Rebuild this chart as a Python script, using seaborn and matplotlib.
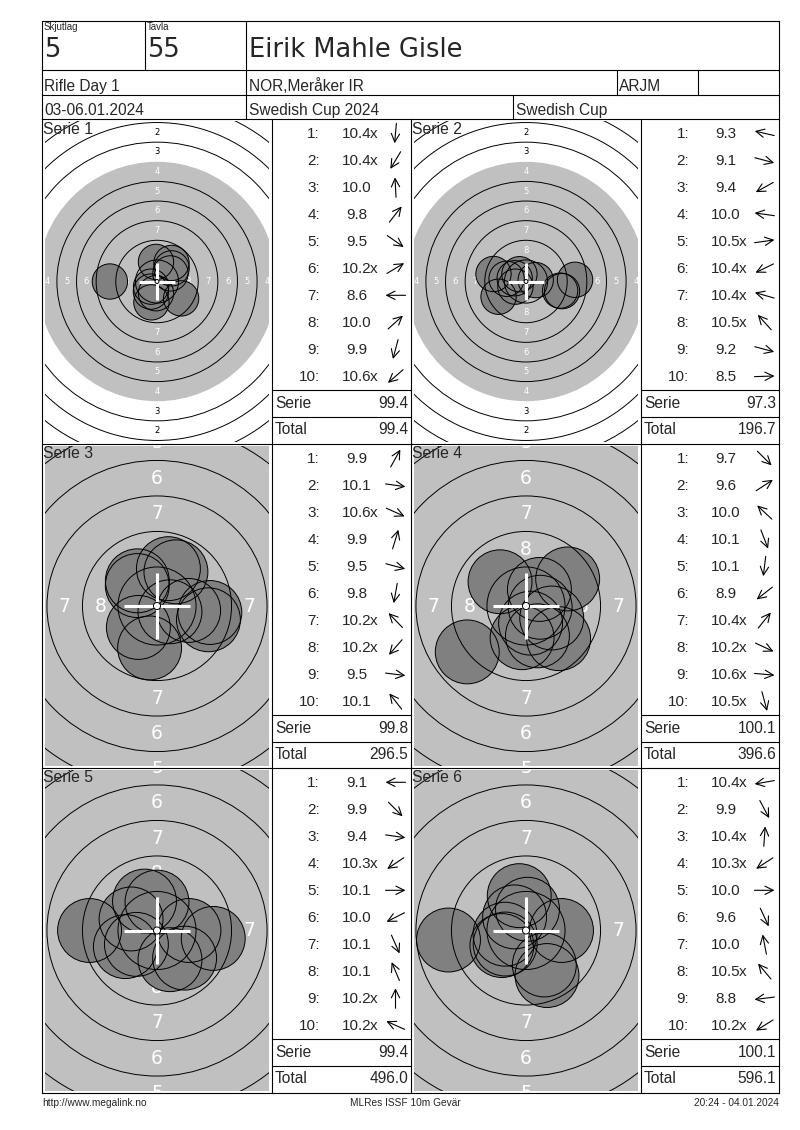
import numpy as np
import pandas as pd
import matplotlib
matplotlib.use('Agg')
import matplotlib.pyplot as plt
from matplotlib.patches import Circle
import seaborn as sns

sns.set_theme(style='white')
plt.rcParams['font.family'] = ['Liberation Sans', 'DejaVu Sans']

# header of the score card
skjutlag = '5'
tavla = '55'
shooter = 'Eirik Mahle Gisle'
event = 'Rifle Day 1'
club = 'NOR,Meråker IR'
klass = 'ARJM'
dates = '03-06.01.2024'
competition = 'Swedish Cup 2024'
cup = 'Swedish Cup'
footer = ['http://www.megalink.no', 'MLRes ISSF 10m Gevär', '20:24 - 04.01.2024']

# shots per serie: score text and direction of the arrow (degrees, 0 = right, 90 = up)
serie1_scores = ['10.4x', '10.4x', '10.0', '9.8', '9.5', '10.2x', '8.6', '10.0', '9.9', '10.6x']
serie1_dirs = [-95, -121, 93, 52, -35, 31, 180, 42, -105, -139]
serie2_scores = ['9.3', '9.1', '9.4', '10.0', '10.5x', '10.4x', '10.4x', '10.5x', '9.2', '8.5']
serie2_dirs = [167, -15, -151, 172, 8, -154, 164, 132, -15, 2]
serie3_scores = ['9.9', '10.1', '10.6x', '9.9', '9.5', '9.8', '10.2x', '10.2x', '9.5', '10.1']
serie3_dirs = [61, -8, -24, 73, -15, -100, 134, -131, -7, 128]
serie4_scores = ['9.7', '9.6', '10.0', '10.1', '10.1', '8.9', '10.4x', '10.2x', '10.6x', '10.5x']
serie4_dirs = [-45, 33, 137, -69, -97, -142, 51, -25, -5, -75]
serie5_scores = ['9.1', '9.9', '9.4', '10.3x', '10.1', '10.0', '10.1', '10.1', '10.2x', '10.2x']
serie5_dirs = [180, -45, -8, -146, 0, -153, -66, 113, 90, 156]
serie6_scores = ['10.4x', '9.9', '10.4x', '10.3x', '10.0', '9.6', '10.0', '10.5x', '8.8', '10.2x']
serie6_dirs = [-170, -62, 86, -147, 0, -65, 101, 130, -173, -148]

serie_sums = ['99.4', '97.3', '99.8', '100.1', '99.4', '100.1']
totals = ['99.4', '196.7', '296.5', '396.6', '496.0', '596.1']

all_scores = [serie1_scores, serie2_scores, serie3_scores, serie4_scores, serie5_scores, serie6_scores]
all_dirs = [serie1_dirs, serie2_dirs, serie3_dirs, serie4_dirs, serie5_dirs, serie6_dirs]
zoomed = [False, False, True, True, True, True]

# 10m air rifle target (mm)
ring_r = {n: 0.25 + (10 - n) * 2.5 for n in range(1, 11)}
pellet_r = 2.25

W, H = 800, 1130
fig = plt.figure(figsize=(W / 100, H / 100), dpi=100)
fig.patch.set_facecolor('white')


def box(x0, y0, x1, y1):
    return [x0 / W, 1 - y1 / H, (x1 - x0) / W, (y1 - y0) / H]


L, R, T, B = 42, 779, 21, 1093
cols = [42, 272, 411, 641, 779]
rows = [119, 444, 768, 1093]

ov = fig.add_axes([0, 0, 1, 1], zorder=10)
ov.set_xlim(0, W)
ov.set_ylim(H, 0)
ov.axis('off')
ov.patch.set_alpha(0)


def hline(y, x0, x1):
    ov.plot([x0, x1], [y, y], color='black', lw=0.8, solid_capstyle='projecting')


def vline(x, y0, y1):
    ov.plot([x, x], [y0, y1], color='black', lw=0.8, solid_capstyle='projecting')


# frame and header grid
for y in [T, 70, 95, 119, 444, 768, B]:
    hline(y, L, R)
vline(L, T, B)
vline(R, T, B)
vline(145, T, 70)
vline(246, T, 119)
vline(617, 70, 95)
vline(698, 70, 95)
vline(513, 95, 119)
for x in cols[1:-1]:
    vline(x, 119, B)

ov.text(44, 30, 'Skjutlag', fontsize=7, va='baseline')
ov.text(147, 30, 'Tavla', fontsize=7, va='baseline')
ov.text(44, 57, skjutlag, fontsize=18.5, family='DejaVu Sans', va='baseline')
ov.text(147, 57, tavla, fontsize=18.5, family='DejaVu Sans', va='baseline')
ov.text(249, 57, shooter, fontsize=18.5, family='DejaVu Sans', va='baseline')
ov.text(44, 91, event, fontsize=11.2, va='baseline')
ov.text(249, 91, club, fontsize=11.2, va='baseline')
ov.text(619, 91, klass, fontsize=11.2, va='baseline')
ov.text(44, 115, dates, fontsize=11.2, va='baseline')
ov.text(249, 115, competition, fontsize=11.2, va='baseline')
ov.text(516, 115, cup, fontsize=11.2, va='baseline')

ov.text(42, 1106, footer[0], fontsize=7.3, va='baseline')
ov.text(405, 1106, footer[1], fontsize=7.3, va='baseline', ha='center')
ov.text(779, 1106, footer[2], fontsize=7.3, va='baseline', ha='right')


def draw_target(ax, df, scale, w_px, h_px):
    hw, hh = w_px / 2 / scale, h_px / 2 / scale
    ax.add_patch(Circle((0, 0), ring_r[4], fc='#c0c0c0', ec='none', zorder=0.5))
    for n in [1, 2, 3, 5, 6, 7, 8, 9]:
        ax.add_patch(Circle((0, 0), ring_r[n], fill=False, ec='black', lw=0.7, zorder=3))
    fs = 13.5 if scale > 10 else 6
    edge = 0.6  # let numbers that are half out of view show their cut part
    for n in range(1, 9):
        mid = (ring_r[n] + ring_r[n + 1]) / 2
        col = 'white' if n >= 4 else 'black'
        spots = []
        if mid < hh + edge:
            spots += [(0, mid), (0, -mid)]
        if mid < hw + edge:
            spots += [(mid, 0), (-mid, 0)]
        for px, py in spots:
            ax.text(px, py, str(n), color=col, fontsize=fs, family='DejaVu Sans',
                    ha='center', va='center', zorder=1.5, clip_on=True)
    size = (2 * pellet_r * scale * 72 / 100) ** 2
    sns.scatterplot(data=df, x='x', y='y', ax=ax, s=size, color='#808080',
                    edgecolor='none', linewidth=0, zorder=2, legend=False)
    sns.scatterplot(data=df, x='x', y='y', ax=ax, s=size, facecolor='none',
                    edgecolor='black', linewidth=0.7, zorder=2.5, legend=False)
    c = 2.35
    ax.plot([-c, c], [0, 0], color='white', lw=2.2, solid_capstyle='butt', zorder=4)
    ax.plot([0, 0], [-c, c], color='white', lw=2.2, solid_capstyle='butt', zorder=4)
    ax.add_patch(Circle((0, 0), ring_r[10], fc='white', ec='black', lw=0.7, zorder=5))
    ax.set_xlim(-hw, hw)
    ax.set_ylim(-hh, hh)
    ax.axis('off')


for i in range(6):
    c, r = i % 2, i // 2
    tx0, tx1 = cols[2 * c], cols[2 * c + 1]
    tl, tr = cols[2 * c + 1], cols[2 * c + 2]
    top, bot = rows[r], rows[r + 1]

    scores = all_scores[i]
    vals = np.array([float(s.rstrip('x')) for s in scores])
    ang = np.radians(all_dirs[i])
    dist = (11 - vals) * 2.5
    df = pd.DataFrame({'shot': np.arange(1, 11), 'score': vals,
                       'x': dist * np.cos(ang), 'y': dist * np.sin(ang)})

    scale = 14.2 if zoomed[i] else 7.85
    ax = fig.add_axes(box(tx0 + 3, top + 2, tx1 - 3, bot - 2), zorder=1)
    draw_target(ax, df, scale, (tx1 - 3) - (tx0 + 3), (bot - 2) - (top + 2))
    ov.text(tx0 + 1, top + 14.5, f'Serie {i + 1}', fontsize=11.3, va='baseline')

    # score list
    for k, s in enumerate(scores):
        yb = top + 19.3 + 27 * k
        ov.text(tl + 48, yb, f'{k + 1}:', fontsize=11, ha='right', va='baseline')
        ov.text(tl + 84.5, yb, s.rstrip('x'), fontsize=11, ha='center', va='baseline')
        if s.endswith('x'):
            ov.text(tl + 98.3, yb, 'x', fontsize=11, ha='left', va='baseline')
        a = np.radians(all_dirs[i][k])
        cx, cy = tl + 123.5, yb - 5
        dx, dy = 10 * np.cos(a), -10 * np.sin(a)
        ov.annotate('', xy=(cx + dx, cy + dy), xytext=(cx - dx, cy - dy),
                    arrowprops=dict(arrowstyle='->,head_length=0.5,head_width=0.25',
                                    lw=0.8, color='black', shrinkA=0, shrinkB=0))
    hline(top + 270.5, tl, tr)
    hline(top + 298, tl, tr)
    ov.text(tl + 3, top + 289.3, 'Serie', fontsize=11.2, va='baseline')
    ov.text(tr - 3, top + 289.3, serie_sums[i], fontsize=11.2, va='baseline', ha='right')
    ov.text(tl + 3, top + 315.3, 'Total', fontsize=11.2, va='baseline')
    ov.text(tr - 3, top + 315.3, totals[i], fontsize=11.2, va='baseline', ha='right')

fig.savefig('out.png', dpi=100, facecolor='white')
